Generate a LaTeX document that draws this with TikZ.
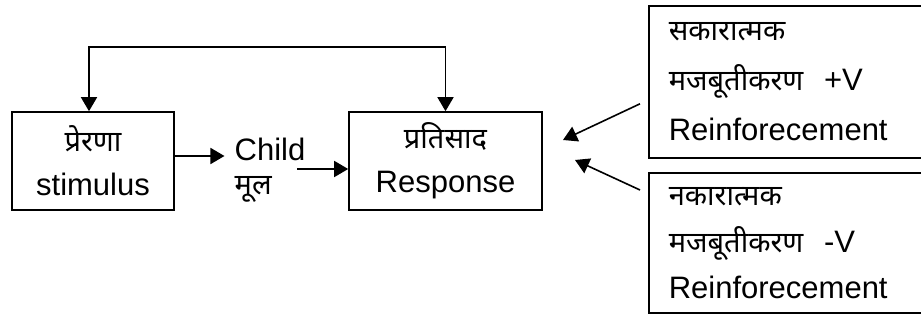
\documentclass[tikz,border=0pt]{standalone}
\usepackage{fontspec}
\setmainfont{Liberation Sans}
\newfontfamily\deva[Script=Devanagari]{Noto Sans}
\usetikzlibrary{arrows.meta,positioning}
\newcommand{\hi}[1]{{\deva\fontsize{29}{29}\selectfont #1}}

\begin{document}
\begin{tikzpicture}[x=1pt,y=-1pt,
	box/.style={draw,line width=1.6pt,inner sep=0pt},
	arr/.style={line width=1.6pt,-{Triangle[length=14pt,width=16pt]}},
	font=\fontsize{31}{50}\selectfont]

	\useasboundingbox (0,0) rectangle (921,320);

	\node[box,minimum width=162pt,minimum height=98pt,align=center] (stim) at (93,161) {\hi{प्रेरणा}\\[-6pt]stimulus};
	\node[box,minimum width=193pt,minimum height=98pt,align=center] (resp) at (445.5,161) {\hi{प्रतिसाद}\\[-6pt]Response};
	\node[align=left,inner sep=10pt] (child) at (270,170) {Child\\[-16pt]\hi{मूल}};

	\node[box,anchor=north west,minimum height=152pt,text width=260pt,inner xsep=20pt,align=left] (posrf) at (648,5)
		{\hi{सकारात्मक}\\\hi{मजबूतीकरण}\ \ +V\\Reinforecement};
	\node[box,anchor=north west,minimum height=140pt,text width=260pt,inner xsep=20pt,align=left] (negrf) at (648,172)
		{\hi{नकारात्मक}\\[-3pt]\hi{मजबूतीकरण}\ \ -V\\[-4pt]Reinforecement};

	\coordinate (top) at (0,47);
	\coordinate (cout) at (297,169);
	\coordinate (tip1) at (563,140);
	\coordinate (tip2) at (575,160);

	\draw[line width=1.6pt,{Triangle[length=14pt,width=16pt]}-{Triangle[length=14pt,width=16pt]}] ([xshift=-4pt]stim.north) -- ([xshift=-4pt]stim.north |- top) -- (resp.north |- top) -- (resp.north);
	\draw[arr] ([yshift=5pt]stim.east) -- ([yshift=5pt]stim.east -| child.west);
	\draw[arr] (cout) -- (cout -| resp.west);
	\draw[arr] ([shift={(-8,22)}]posrf.west) -- (tip1);
	\draw[arr] ([shift={(-8,18)}]negrf.north west) -- (tip2);

\end{tikzpicture}
\end{document}
